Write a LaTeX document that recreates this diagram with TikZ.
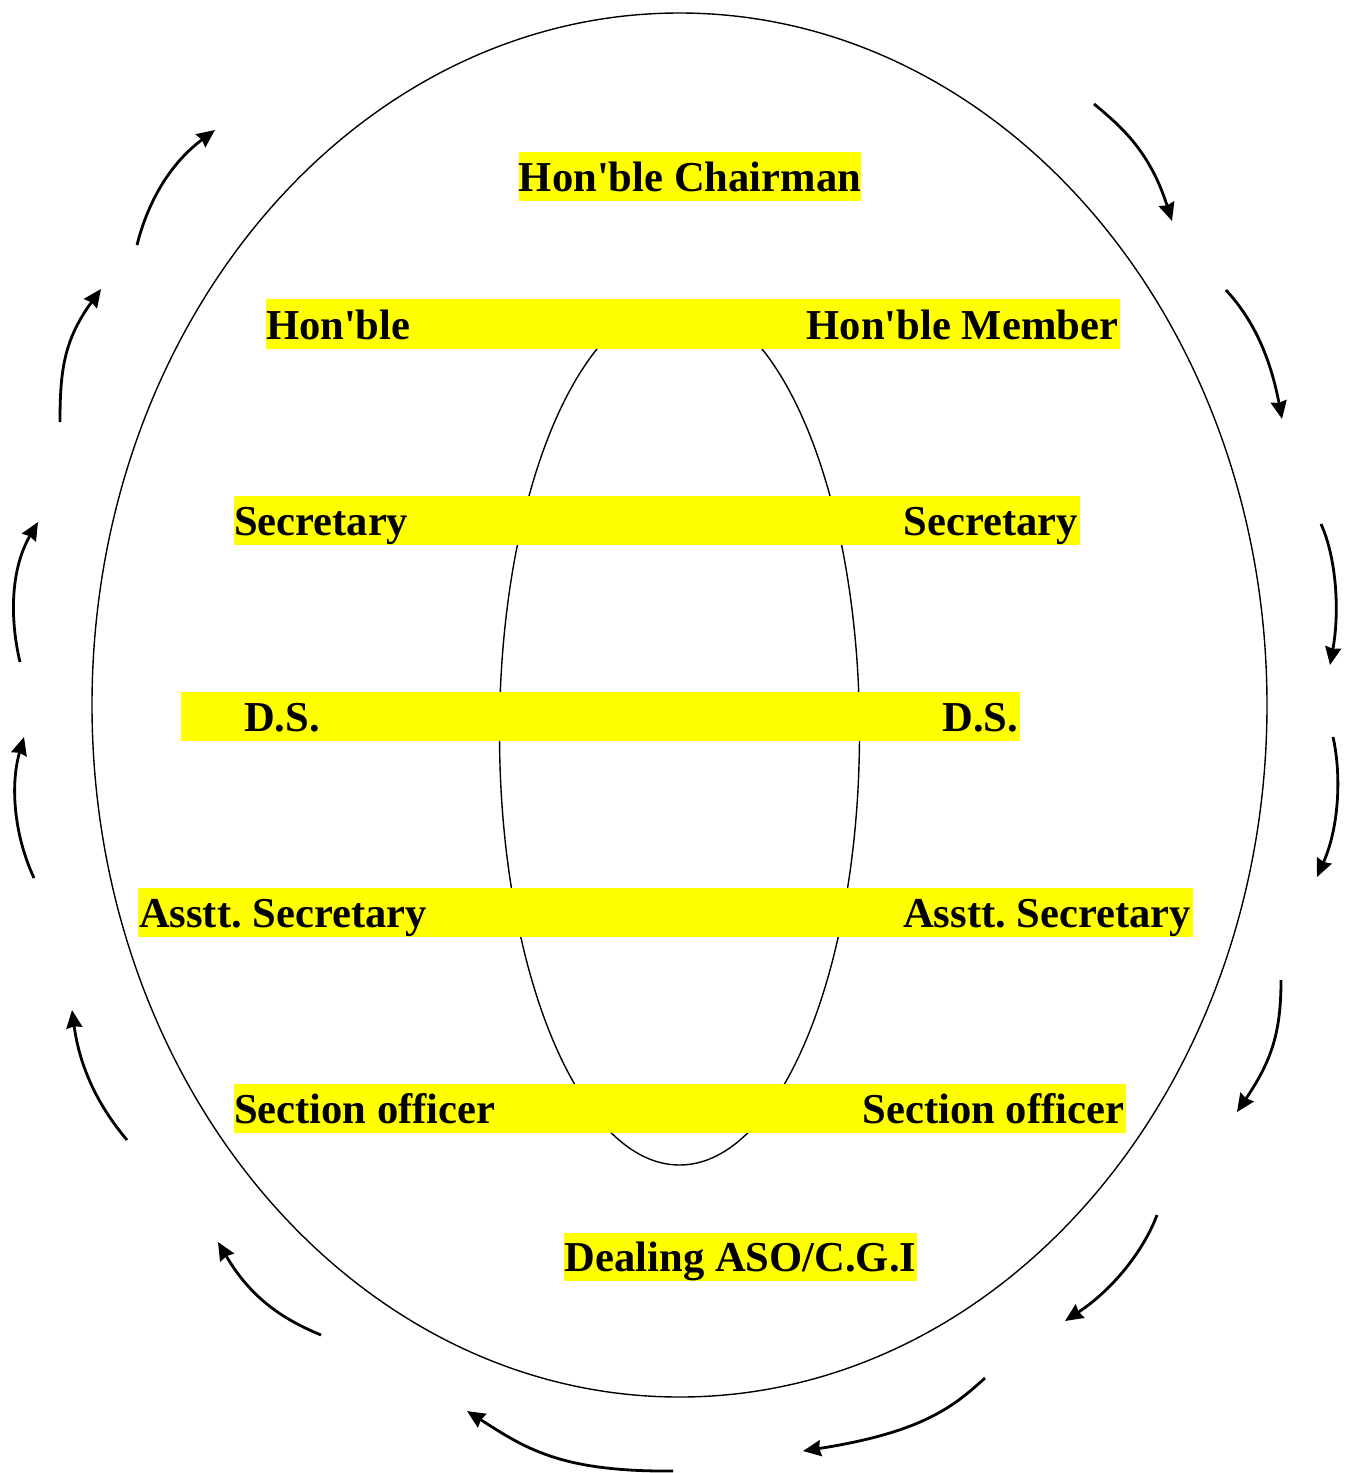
\documentclass[tikz,border=0pt]{standalone}
\usepackage{fontspec}
\setmainfont{Liberation Serif}
\usetikzlibrary{arrows.meta}
\definecolor{hl}{RGB}{255,255,0}
\frenchspacing
\begin{document}
\begin{tikzpicture}[x=0.5pt,y=-0.5pt,
  bar/.style={fill=hl,draw=none,inner sep=0pt,outer sep=0pt},
  lbl/.style={inner sep=0pt,outer sep=0pt,font=\fontsize{21.3pt}{24pt}\selectfont\bfseries},
  flow/.style={line width=1.4pt,-{Stealth[length=9pt,width=8pt,inset=0.8pt]}},
  ring/.style={line width=0.7pt}]
\useasboundingbox (0,0) rectangle (1348,1473);
% ellipses
\draw[ring] (679.5,705) ellipse [x radius=293.75pt, y radius=346pt];
\draw[ring] (679.5,733) ellipse [x radius=90pt, y radius=216pt];
% bars
\node[bar,minimum width=171pt,minimum height=24.5pt] (bchair) at (690,176.5) {};
\node[bar,minimum width=427pt,minimum height=25pt] (b1) at (693,324) {};
\node[bar,minimum width=423pt,minimum height=24.5pt] (b2) at (657,520.5) {};
\node[bar,minimum width=419.5pt,minimum height=24.5pt] (b3) at (600.5,716.5) {};
\node[bar,minimum width=527.5pt,minimum height=24.5pt] (b4) at (665.5,912.5) {};
\node[bar,minimum width=446pt,minimum height=24.5pt] (b5) at (680,1108.5) {};
\node[bar,minimum width=176.5pt,minimum height=24pt] (bdeal) at (740.5,1257) {};
% labels
\node[lbl,anchor=base] (tchair) at (690,191) {Hon\textquotesingle ble Chairman};
\node[lbl,anchor=base west] (t1l) at (266,339) {Hon\textquotesingle ble};
\node[lbl,anchor=base east] (t1r) at (1118,339) {Hon\textquotesingle ble Member};
\node[lbl,anchor=base west] (t2l) at (234,535) {Secretary};
\node[lbl,anchor=base east] (t2r) at (1078,535) {Secretary};
\node[lbl,anchor=base west] (t3l) at (244,731) {D.S.};
\node[lbl,anchor=base east] (t3r) at (1018,731) {D.S.};
\node[lbl,anchor=base west] (t4l) at (139,927) {Asstt. Secretary};
\node[lbl,anchor=base east] (t4r) at (1191,927) {Asstt. Secretary};
\node[lbl,anchor=base west] (t5l) at (234,1123) {Section officer};
\node[lbl,anchor=base east] (t5r) at (1124,1123) {Section officer};
\node[lbl,anchor=base] (tdeal) at (740.5,1271) {Dealing ASO/C.G.I};
% arrow end points
\coordinate (a1s) at (137,245);  \coordinate (a1e) at (215,130);
\coordinate (a2s) at (60,422);   \coordinate (a2e) at (101,289);
\coordinate (a3s) at (20,662);   \coordinate (a3e) at (38,522);
\coordinate (a4s) at (34,878);   \coordinate (a4e) at (24,737);
\coordinate (a5s) at (127,1140); \coordinate (a5e) at (72,1010);
\coordinate (a6s) at (321,1335); \coordinate (a6e) at (218,1242);
\coordinate (a7s) at (673,1471); \coordinate (a7e) at (467,1411);
\coordinate (a8s) at (1094,104); \coordinate (a8e) at (1172,221);
\coordinate (a9s) at (1226,290); \coordinate (a9e) at (1282,419);
\coordinate (a10s) at (1321,524); \coordinate (a10e) at (1330,665);
\coordinate (a11s) at (1333,737); \coordinate (a11e) at (1317,877);
\coordinate (a12s) at (1281,980); \coordinate (a12e) at (1237,1112);
\coordinate (a13s) at (1157,1215); \coordinate (a13e) at (1065,1321);
\coordinate (a14s) at (985,1378); \coordinate (a14e) at (803,1451);
% arrows
\draw[flow] (a1s) .. controls (147,205) and (168,165) .. (a1e);
\draw[flow] (a2s) .. controls (60,370) and (64,340) .. (a2e);
\draw[flow] (a3s) .. controls (10,620) and (10,570) .. (a3e);
\draw[flow] (a4s) .. controls (14,835) and (10,785) .. (a4e);
\draw[flow] (a5s) .. controls (100,1108) and (80,1070) .. (a5e);
\draw[flow] (a6s) .. controls (285,1320) and (252,1300) .. (a6e);
\draw[flow] (a7s) .. controls (560,1472) and (525,1448) .. (a7e);
\draw[flow] (a8s) .. controls (1122,127) and (1150,152) .. (a8e);
\draw[flow] (a9s) .. controls (1246,312) and (1268,345) .. (a9e);
\draw[flow] (a10s) .. controls (1336,557) and (1340,610) .. (a10e);
\draw[flow] (a11s) .. controls (1341,772) and (1340,825) .. (a11e);
\draw[flow] (a12s) .. controls (1281,1032) and (1272,1060) .. (a12e);
\draw[flow] (a13s) .. controls (1143,1252) and (1112,1290) .. (a13e);
\draw[flow] (a14s) .. controls (955,1405) and (925,1432) .. (a14e);
\end{tikzpicture}
\end{document}
